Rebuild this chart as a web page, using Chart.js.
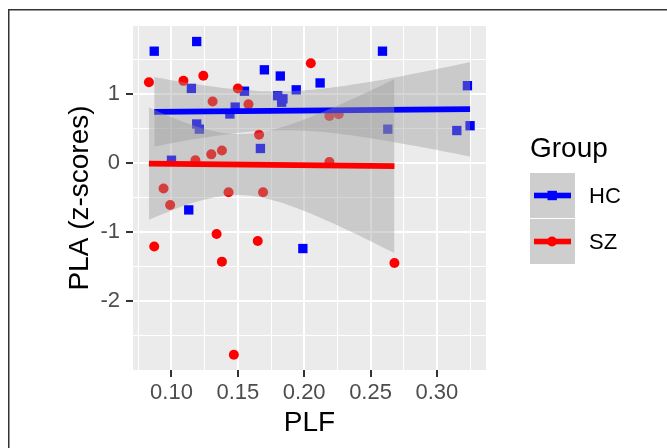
<!DOCTYPE html>
<html>
<head>
<meta charset="utf-8">
<script src="https://cdn.jsdelivr.net/npm/chart.js@4.4.1/dist/chart.umd.min.js"></script>
<style>
  html, body { margin: 0; padding: 0; background: #fff; }
  #wrap { position: relative; width: 667px; height: 448px; }
</style>
</head>
<body>
<div id="wrap"><canvas id="chart-canvas" width="667" height="448"></canvas></div>
<script>
// values
const hcPLF = [0.087, 0.119, 0.259, 0.170, 0.182, 0.212, 0.323, 0.115, 0.155, 0.194, 0.180, 0.184,
  0.183, 0.148, 0.144, 0.119, 0.121, 0.263, 0.315, 0.325, 0.167, 0.100, 0.113, 0.199];
const hcPLA = [1.62, 1.76, 1.62, 1.35, 1.26, 1.16, 1.12, 1.08, 1.04, 1.06, 0.975, 0.93,
  0.88, 0.81, 0.71, 0.565, 0.49, 0.49, 0.47, 0.54, 0.21, 0.04, -0.68, -1.24];

const szPLF = [0.083, 0.109, 0.124, 0.205, 0.150, 0.131, 0.158, 0.219, 0.226, 0.166, 0.138, 0.130,
  0.118, 0.219, 0.094, 0.143, 0.169, 0.099, 0.087, 0.134, 0.165, 0.138, 0.268, 0.147];
const szPLA = [1.17, 1.19, 1.265, 1.445, 1.08, 0.89, 0.85, 0.68, 0.705, 0.41, 0.18, 0.125,
  0.04, 0.015, -0.37, -0.425, -0.425, -0.61, -1.21, -1.03, -1.13, -1.43, -1.45, -2.78];

// fitted lines and their grey bands
const hcFitX = [0.087, 0.325];
const hcFitY = [0.74, 0.78];
const szFitX = [0.083, 0.268];
const szFitY = [-0.01, -0.045];

const hcBandX = [0.087, 0.10, 0.12, 0.15, 0.18, 0.21, 0.25, 0.29, 0.325];
const hcBandUpper = [1.245, 1.200, 1.138, 1.066, 1.037, 1.067, 1.176, 1.323, 1.465];
const hcBandLower = [0.235, 0.285, 0.354, 0.436, 0.474, 0.455, 0.359, 0.225, 0.095];

const szBandX = [0.083, 0.10, 0.12, 0.14, 0.16, 0.18, 0.20, 0.22, 0.245, 0.268];
const szBandUpper = [0.803, 0.662, 0.522, 0.433, 0.426, 0.501, 0.631, 0.789, 1.005, 1.215];
const szBandLower = [-0.823, -0.688, -0.556, -0.474, -0.475, -0.558, -0.695, -0.860, -1.087, -1.305];

const xTicks = [0.075, 0.10, 0.125, 0.15, 0.175, 0.20, 0.225, 0.25, 0.275, 0.30, 0.325];
const yTicks = [-2.5, -2, -1.5, -1, -0.5, 0, 0.5, 1, 1.5];

const groups = ['HC', 'SZ'];
const groupColors = ['#0000FF', '#FF0000'];

const FONT = 'Liberation Sans, Arial, sans-serif';
const BAND = 'rgba(153,153,153,0.4)';

const pts = (xs, ys) => xs.map((x, i) => ({ x: x, y: ys[i] }));
const isMajorX = v => Math.abs(v * 20 - Math.round(v * 20)) < 1e-6;
const isMajorY = v => Math.abs(v - Math.round(v)) < 1e-6;

const panelBg = {
  id: 'panelBg',
  beforeDraw(chart) {
    const { ctx, chartArea: a } = chart;
    ctx.save();
    ctx.fillStyle = '#fff';
    ctx.fillRect(0, 0, chart.width, chart.height);
    ctx.fillStyle = '#EBEBEB';
    ctx.fillRect(a.left, a.top, a.right - a.left, a.bottom - a.top);
    ctx.restore();
  }
};

const legendBox = {
  id: 'legendBox',
  afterDraw(chart) {
    const ctx = chart.ctx;
    ctx.save();
    // frame
    ctx.fillStyle = '#333';
    ctx.fillRect(8, 9, chart.width, 1.5);
    ctx.fillRect(8, 9, 1.5, chart.height);

    ctx.fillStyle = '#000';
    ctx.font = '28px ' + FONT;
    ctx.textBaseline = 'alphabetic';
    ctx.fillText('Group', 530, 157);

    groups.forEach((g, i) => {
      const top = 173 + i * 46;
      const cy = top + 22.5;
      ctx.fillStyle = '#F2F2F2';
      ctx.fillRect(530, top, 45, 45);
      ctx.fillStyle = BAND;
      ctx.fillRect(530, top, 45, 45);
      ctx.fillStyle = groupColors[i];
      ctx.fillRect(534, cy - 2.8, 37, 5.6);
      if (i === 0) {
        ctx.fillRect(547.5, cy - 4.7, 9.4, 9.4);
      } else {
        ctx.beginPath();
        ctx.arc(552, cy, 5, 0, Math.PI * 2);
        ctx.fill();
      }
      ctx.fillStyle = '#000';
      ctx.font = '22px ' + FONT;
      ctx.textBaseline = 'middle';
      ctx.fillText(g, 589, cy + 1);
    });
    ctx.restore();
  }
};

const ctx = document.getElementById('chart-canvas');
new Chart(ctx, {
  type: 'scatter',
  data: {
    datasets: [
      { type: 'line', data: pts(szFitX, szFitY), borderColor: groupColors[1], borderWidth: 5.6,
        pointRadius: 0, fill: false, order: 0 },
      { type: 'line', data: pts(szBandX, szBandUpper), borderWidth: 0, pointRadius: 0,
        tension: 0.3, fill: '+1', backgroundColor: BAND, order: 1 },
      { type: 'line', data: pts(szBandX, szBandLower), borderWidth: 0, pointRadius: 0,
        tension: 0.3, fill: false, order: 1 },
      { type: 'line', data: pts(hcFitX, hcFitY), borderColor: groupColors[0], borderWidth: 5.6,
        pointRadius: 0, fill: false, order: 2 },
      { type: 'line', data: pts(hcBandX, hcBandUpper), borderWidth: 0, pointRadius: 0,
        tension: 0.3, fill: '+1', backgroundColor: BAND, order: 3 },
      { type: 'line', data: pts(hcBandX, hcBandLower), borderWidth: 0, pointRadius: 0,
        tension: 0.3, fill: false, order: 3 },
      { label: 'SZ', data: pts(szPLF, szPLA), pointStyle: 'circle', pointRadius: 5,
        backgroundColor: groupColors[1], borderWidth: 0, order: 4 },
      { label: 'HC', data: pts(hcPLF, hcPLA), pointStyle: 'rect', pointRadius: 6.6,
        backgroundColor: groupColors[0], borderWidth: 0, order: 5 }
    ]
  },
  options: {
    responsive: false,
    animation: false,
    devicePixelRatio: 1,
    layout: { padding: { top: 26, right: 181, left: 0, bottom: 0 } },
    plugins: { legend: { display: false }, tooltip: { enabled: false } },
    scales: {
      x: {
        type: 'linear',
        min: 0.071,
        max: 0.337,
        afterBuildTicks: axis => { axis.ticks = xTicks.map(v => ({ value: v })); },
        afterFit: axis => { axis.height = 78; },
        border: { display: false },
        grid: {
          color: '#fff',
          lineWidth: c => (isMajorX(c.tick.value) ? 2 : 1),
          tickColor: c => (isMajorX(c.tick.value) ? '#333' : 'rgba(0,0,0,0)'),
          tickLength: 7,
          tickWidth: 2
        },
        ticks: {
          autoSkip: false,
          maxRotation: 0,
          padding: 3,
          color: '#4D4D4D',
          font: { family: FONT, size: 22 },
          callback: v => (isMajorX(v) ? v.toFixed(2) : '')
        },
        title: {
          display: true,
          text: 'PLF',
          color: '#000',
          font: { family: FONT, size: 28 },
          padding: { top: 0, bottom: 8 }
        }
      },
      y: {
        min: -3.0,
        max: 1.985,
        afterBuildTicks: axis => { axis.ticks = yTicks.map(v => ({ value: v })); },
        afterFit: axis => { axis.width = 133; },
        border: { display: false },
        grid: {
          color: '#fff',
          lineWidth: c => (isMajorY(c.tick.value) ? 2 : 1),
          tickColor: c => (isMajorY(c.tick.value) ? '#333' : 'rgba(0,0,0,0)'),
          tickLength: 7,
          tickWidth: 2
        },
        ticks: {
          autoSkip: false,
          padding: 6,
          color: '#4D4D4D',
          font: { family: FONT, size: 22 },
          callback: v => (isMajorY(v) ? String(v) : '')
        },
        title: {
          display: true,
          text: 'PLA (z-scores)',
          color: '#000',
          font: { family: FONT, size: 28 },
          padding: { top: 63, bottom: 0 }
        }
      }
    }
  },
  plugins: [panelBg, legendBox]
});
</script>
</body>
</html>
